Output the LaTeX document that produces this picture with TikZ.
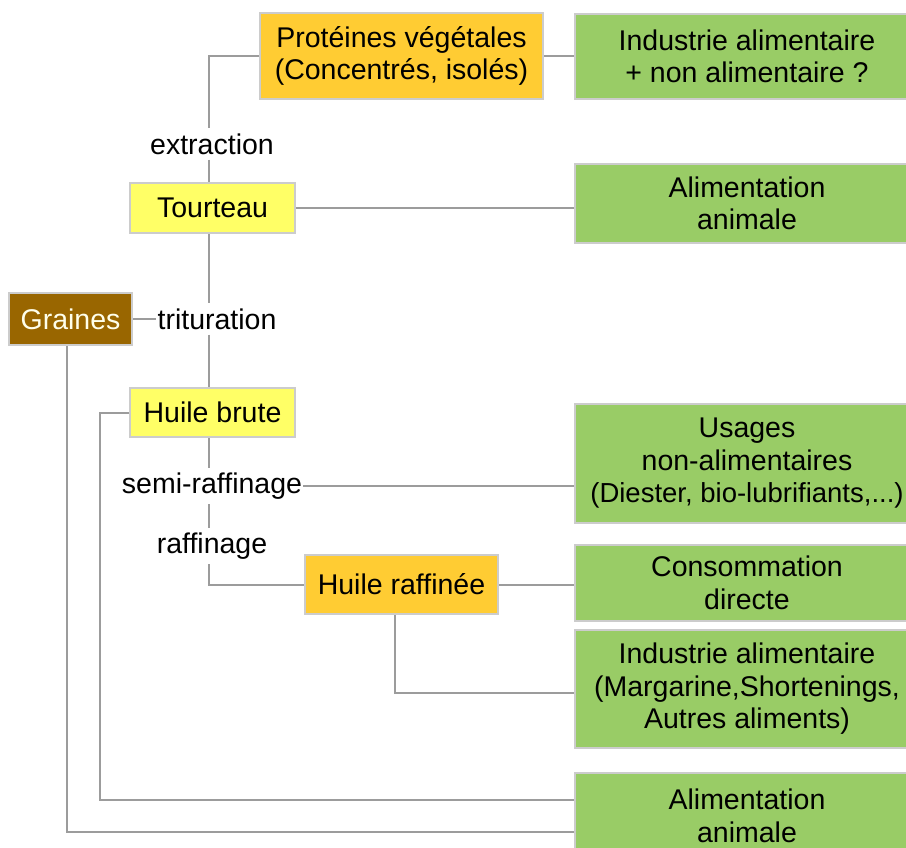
\documentclass[tikz,border=0pt]{standalone}
\usepackage{fontspec}
\setmainfont{Liberation Sans}
\definecolor{orng}{HTML}{FFCC33}
\definecolor{yel}{HTML}{FFFF66}
\definecolor{grn}{HTML}{99CC66}
\definecolor{brn}{HTML}{996600}
\definecolor{edgec}{HTML}{CCCCCC}
\definecolor{wirec}{HTML}{9C9C9C}
\begin{document}
\begin{tikzpicture}[x=1bp,y=-1bp,
  font=\fontsize{28.5bp}{32.5bp}\selectfont,
  box/.style={draw=edgec,line width=2bp,inner sep=0pt,align=center,text=black},
  lab/.style={inner xsep=1bp,inner ysep=5bp},
  wire/.style={draw=wirec,line width=2bp}]
\useasboundingbox (0,0) rectangle (906,848);
% boxes
\node[box,fill=orng,minimum width=283bp,minimum height=86bp] (prot) at (401.5,56) {Protéines végétales\\(Concentrés, isolés)};
\node[box,fill=grn,minimum width=344bp,minimum height=85bp] (ind1) at (747,56.5) {Industrie alimentaire\\+ non alimentaire ?};
\node[box,fill=yel,minimum width=165bp,minimum height=50bp] (tourteau) at (212.5,208) {Tourteau};
\node[box,fill=grn,minimum width=344bp,minimum height=79bp] (alim1) at (747,203.5) {Alimentation\\animale};
\node[box,fill=brn,text={rgb,255:red,255;green,255;blue,235},minimum width=123bp,minimum height=52bp] (graines) at (70.5,319) {Graines};
\node[box,fill=yel,minimum width=165bp,minimum height=49bp] (hbrute) at (212.5,412.5) {Huile brute};
\node[box,fill=grn,minimum width=344bp,minimum height=119bp] (usages) at (747,463.5) {Usages\\non-alimentaires\\{\fontsize{27.5bp}{32.5bp}\selectfont(Diester, bio-lubrifiants,...)}};
\node[box,fill=orng,minimum width=193bp,minimum height=59bp] (hraff) at (401.5,584.5) {Huile raffinée};
\node[box,fill=grn,minimum width=344bp,minimum height=76bp] (conso) at (747,583) {Consommation\\directe};
\node[box,fill=grn,minimum width=344bp,minimum height=118bp] (ind2) at (747,689) {Industrie alimentaire\\(Margarine,Shortenings,\\Autres aliments)};
\node[box,fill=grn,minimum width=344bp,minimum height=86bp] (alim2) at (747,816) {Alimentation\\animale};
% labels
\node[lab] (ext) at (212,144) {extraction};
\node[lab] (trit) at (217,319) {trituration};
\node[lab] (semi) at (212,486) {semi-raffinage};
\node[lab] (raff) at (212,546) {raffinage};
% helper coordinates
\coordinate (vx) at (209,0);
\coordinate (hbc) at (100,800);
\coordinate (grc) at (67,832);
\coordinate (hrc) at (395,693);
% connectors
\draw[wire] (prot.west) -| (ext.north -| vx);
\draw[wire] (ext.south -| vx) -- (tourteau.north -| vx);
\draw[wire] (prot.east) -- (prot.east -| ind1.west);
\draw[wire] (tourteau.east) -- (tourteau.east -| alim1.west);
\draw[wire] (tourteau.south -| vx) -- (trit.north -| vx);
\draw[wire] (graines.east) -- (trit.west);
\draw[wire] (trit.south -| vx) -- (hbrute.north -| vx);
\draw[wire] (hbrute.west) -| (hbc) -- (hbc -| alim2.west);
\draw[wire] (graines.south -| grc) -- (grc) -- (grc -| alim2.west);
\draw[wire] (hbrute.south -| vx) -- (semi.north -| vx);
\draw[wire] (semi.east) -- (semi.east -| usages.west);
\draw[wire] (semi.south -| vx) -- (raff.north -| vx);
\draw[wire] (raff.south -| vx) |- (hraff.west);
\draw[wire] (hraff.east) -- (hraff.east -| conso.west);
\draw[wire] (hraff.south -| hrc) -- (hrc) -- (hrc -| ind2.west);
\end{tikzpicture}
\end{document}
